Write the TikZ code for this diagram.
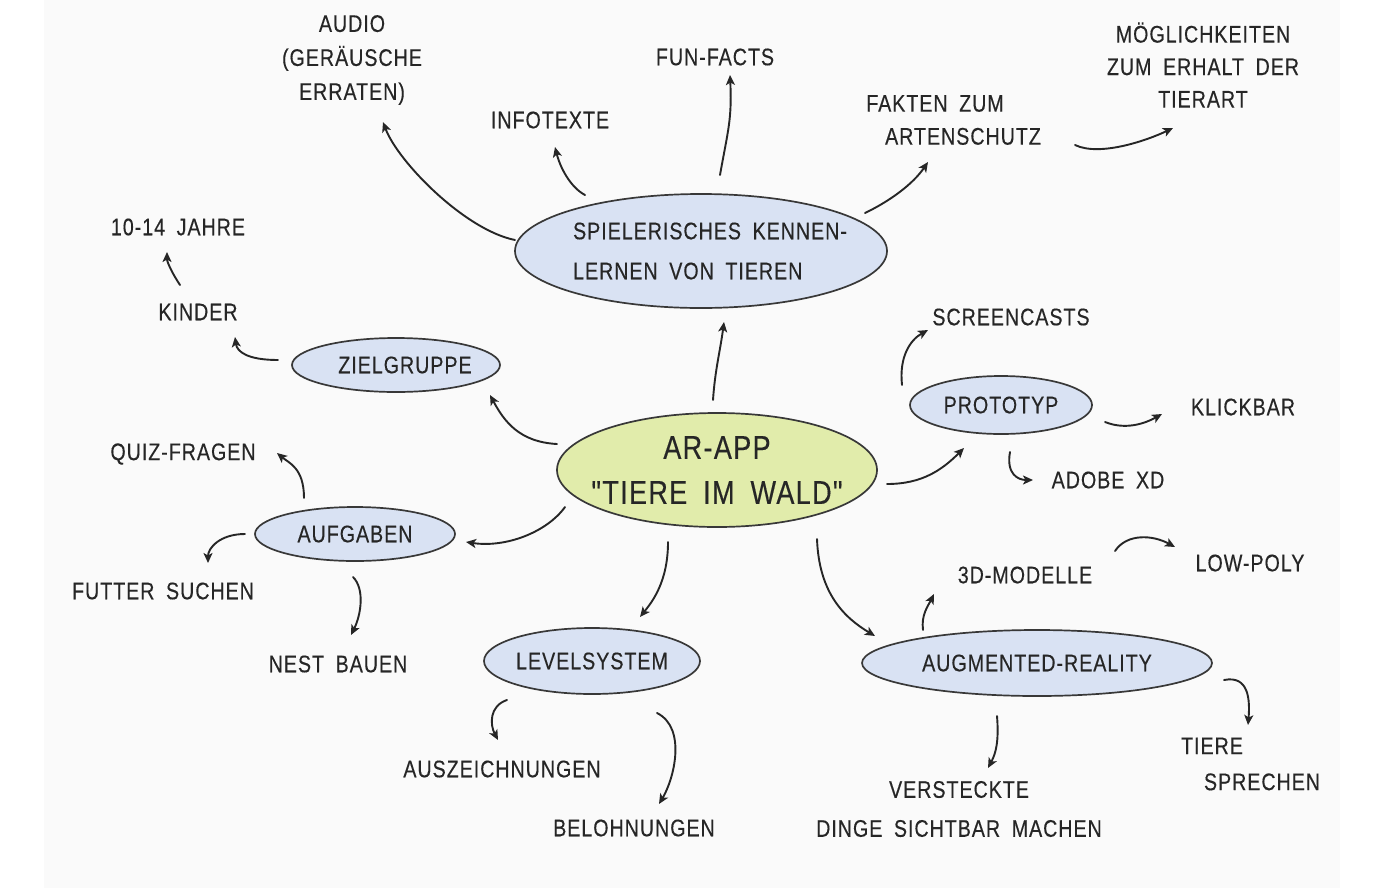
\documentclass[tikz,border=0pt]{standalone}
\usepackage{fontspec}
\setmainfont{Liberation Sans}[Ligatures=TeXOff, FakeStretch=0.82, FakeBold=0.3, LetterSpace=4, WordSpace=1.8]
\usetikzlibrary{shapes.geometric,arrows.meta}
\definecolor{panel}{HTML}{FAFAFA}
\definecolor{ink}{HTML}{262626}
\definecolor{edge}{HTML}{383838}
\definecolor{bluef}{HTML}{D9E2F3}
\definecolor{greenf}{HTML}{E1ECAB}
\tikzset{
  lbl/.style={text=ink, font=\fontsize{24}{33}\selectfont, align=center, inner sep=0pt},
  bub/.style={ellipse, draw=edge, line width=1.7pt, fill=bluef, inner sep=0pt},
  btxt/.style={text=ink, font=\fontsize{24}{40}\selectfont, align=center, inner sep=0pt},
  arrowline/.style={draw=ink, line width=1.9pt, line cap=round,
              -{Stealth[length=10pt,width=9pt,inset=2.5pt]}}
}
\newcommand\conn[6]{\draw[arrowline] ([shift={(#2)}]#1.center) .. controls +(#3) and +(#4) .. ([shift={(#6)}]#5.center);}
\begin{document}
\begin{tikzpicture}[x=1pt,y=1pt]
\useasboundingbox (0,0) rectangle (1388,-889);
\fill[white] (0,0) rectangle (1388,-889);
\fill[panel] (44,0) rectangle (1340,-888);

% main bubbles
\node[bub, fill=greenf, minimum width=320pt, minimum height=114pt,
      label={[btxt, font=\fontsize{33}{45}\selectfont]center:AR-APP\\"TIERE IM WALD"}] (c) at (717,-470) {};
\node[bub, minimum width=372pt, minimum height=114pt,
      label={[btxt, align=left]center:\hspace*{18pt}SPIELERISCHES KENNEN-\\\hspace*{18pt}LERNEN VON TIEREN}] (spiel) at (701,-251) {};
\node[bub, minimum width=208pt, minimum height=54pt, label={[btxt]center:\hspace*{18pt}ZIELGRUPPE}] (zg) at (396,-365) {};
\node[bub, minimum width=182pt, minimum height=58pt, label={[btxt]center:PROTOTYP}] (proto) at (1001,-405) {};
\node[bub, minimum width=200pt, minimum height=54pt, label={[btxt]center:AUFGABEN}] (auf) at (355,-534) {};
\node[bub, minimum width=216pt, minimum height=66pt, label={[btxt]center:LEVELSYSTEM}] (lvl) at (592,-661) {};
\node[bub, minimum width=350pt, minimum height=66pt, label={[btxt]center:AUGMENTED-REALITY}] (ar) at (1037,-663) {};

% labels
\node[lbl, font=\fontsize{24}{34}\selectfont] (audio) at (352,-60) {AUDIO\\(GERÄUSCHE\\ERRATEN)};
\node[lbl] (info) at (550,-120) {INFOTEXTE};
\node[lbl] (fun) at (715,-57) {FUN-FACTS};
\node[lbl] (fakten) at (949,-120) {\hspace*{-28pt}FAKTEN ZUM\\\hspace*{28pt}ARTENSCHUTZ};
\node[lbl, font=\fontsize{24}{32.5}\selectfont] (mog) at (1203,-65) {MÖGLICHKEITEN\\ZUM ERHALT DER\\TIERART};
\node[lbl] (jahre) at (178,-227) {10-14 JAHRE};
\node[lbl] (kinder) at (198,-312) {KINDER};
\node[lbl] (screen) at (1011,-317) {SCREENCASTS};
\node[lbl] (klick) at (1243,-407) {KLICKBAR};
\node[lbl] (adobe) at (1108,-480) {ADOBE XD};
\node[lbl] (quiz) at (183,-454) {QUIZ-FRAGEN};
\node[lbl] (futter) at (163,-591) {FUTTER SUCHEN};
\node[lbl] (nest) at (338,-664) {NEST BAUEN};
\node[lbl] (modelle) at (1025,-575) {3D-MODELLE};
\node[lbl] (low) at (1250,-563) {LOW-POLY};
\node[lbl] (ausz) at (502,-769) {AUSZEICHNUNGEN};
\node[lbl] (bel) at (634,-828) {BELOHNUNGEN};
\node[lbl, font=\fontsize{24}{39}\selectfont] (verst) at (959,-809) {VERSTECKTE\\DINGE SICHTBAR MACHEN};
\node[lbl, font=\fontsize{24}{36}\selectfont] (tiere) at (1237,-764) {\hspace*{-50pt}TIERE\\\hspace*{50pt}SPRECHEN};

% connectors
\conn{c}{-4,70}{2,30}{-4,-30}{spiel}{23,-71}
\conn{c}{-160,26}{-38,2}{14,-26}{zg}{94,-30}
\conn{c}{-152,-37}{-18,-25}{40,-6}{auf}{111,-8}
\conn{c}{-49,-72}{0,-40}{12,15}{lvl}{48,44}
\conn{c}{100,-69}{2,-55}{-30,18}{ar}{-162,27}
\conn{c}{170,-14}{35,0}{-22,-22}{proto}{-37,-43}
\conn{spiel}{-186,11}{-50,10}{15,-40}{audio}{31,-62}
\conn{spiel}{-116,56}{-15,8}{5,-20}{info}{5,-27}
\conn{spiel}{19,76}{8,45}{2,-45}{fun}{15,-18}
\conn{spiel}{164,38}{25,12}{-15,-22}{fakten}{-21,-42}
\conn{fakten}{126,-25}{25,-12}{-25,-12}{mog}{-30,-63}
\conn{zg}{-118,5}{-30,0}{2,-15}{kinder}{37,-25}
\conn{kinder}{-18,27}{-8,12}{0,-10}{jahre}{-11,-25}
\conn{auf}{-51,36}{0,30}{12,-10}{quiz}{94,1}
\conn{auf}{-110,0}{-25,0}{0,15}{futter}{45,28}
\conn{auf}{-2,-43}{12,-12}{10,20}{nest}{13,29}
\conn{lvl}{-85,-39}{-18,-6}{-8,15}{ausz}{-4,29}
\conn{lvl}{65,-52}{30,-15}{15,25}{bel}{25,24}
\conn{proto}{-99,20}{-3,28}{-18,-10}{screen}{-83,-13}
\conn{proto}{104,-17}{20,-8}{-18,-10}{klick}{-81,-7}
\conn{proto}{9,-47}{-4,-22}{-15,0}{adobe}{-75,0}
\conn{ar}{-114,33}{-2,15}{-6,-12}{modelle}{-91,-19}
\conn{modelle}{90,24}{12,18}{-22,12}{low}{-75,16}
\conn{ar}{187,-17}{25,5}{2,25}{tiere}{11,39}
\conn{ar}{-40,-53}{2,-25}{8,15}{verst}{29,41}
\end{tikzpicture}
\end{document}
